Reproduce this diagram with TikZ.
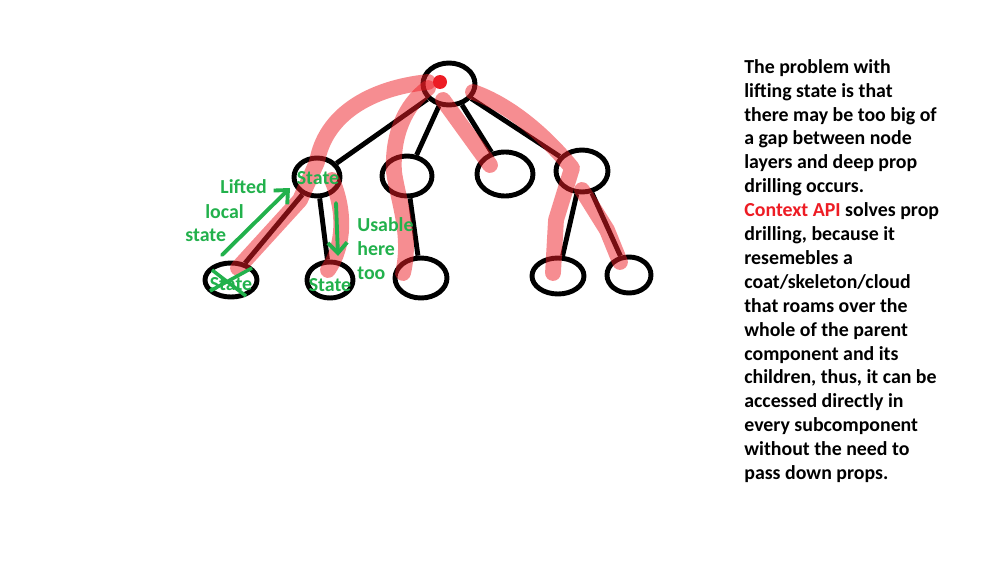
\documentclass[tikz,border=0pt]{standalone}
\usepackage{fontspec}
\setmainfont{Carlito}
\usetikzlibrary{shapes.geometric, arrows.meta}
\definecolor{spray}{HTML}{ED1C24}
\definecolor{paintgreen}{HTML}{22B14C}

\begin{document}
\begin{tikzpicture}[x=0.02cm, y=-0.02cm,
  comp/.style={draw, ellipse, line width=2.8pt, inner sep=0pt},
  dims/.style 2 args={minimum width=#1*0.02cm, minimum height=#2*0.02cm},
  link/.style={line width=2.8pt},
  drill/.style={spray, line width=9pt, opacity=0.5, line cap=round, line join=round},
  note/.style={text=paintgreen, font=\fontsize{11.3}{13.6}\selectfont\bfseries, inner sep=0pt},
  hint/.style={paintgreen, line width=2.2pt, line cap=round, -{Straight Barb[length=6pt, width=11pt, line width=2.2pt]}}]
  \useasboundingbox (0,0) rectangle (1005,568);

  % component tree
  \node[comp, dims={52}{42}] (root) at (449,84) {};
  \node[comp, dims={46}{38}] (kidA) at (317,177) {};
  \node[comp, dims={50}{40}] (kidB) at (407,176) {};
  \node[comp, dims={56}{44}] (kidC) at (505,174) {};
  \node[comp, dims={52}{42}] (kidD) at (582,171) {};
  \node[comp, dims={52}{34}] (leafA) at (231,280) {};
  \node[comp, dims={46}{36}] (leafB) at (330,280) {};
  \node[comp, dims={52}{40}] (leafC) at (421,278) {};
  \node[comp, dims={52}{36}] (leafD) at (558,276) {};
  \node[comp, dims={44}{36}] (leafE) at (629,275) {};
  \foreach \a/\b in {root/kidA, root/kidB, root/kidC, root/kidD, kidA/leafA, kidA/leafB, kidB/leafC, kidD/leafD, kidD/leafE}
    \draw[link] (\a) -- (\b);

  % context spray
  \fill[spray] (440,82) circle (7);
  \draw[drill] (428,82) .. controls (370,88) and (325,115) .. (317,162) -- (300,200) -- (238,268);
  \draw[drill] (332,180) .. controls (345,210) and (345,245) .. (328,270);
  \draw[drill] (428,88) .. controls (405,105) and (392,135) .. (394,172) .. controls (398,200) and (412,235) .. (403,273);
  \draw[drill] (443,100) -- (490,165);
  \draw[drill] (473,92) .. controls (510,105) and (545,135) .. (572,168) -- (556,220) -- (553,273);
  \draw[drill] (582,190) -- (607,230) -- (620,262);

  % lifted state
  \coordinate (liftFrom) at (222,255);
  \coordinate (liftTo) at (290,188);
  \coordinate (useFrom) at (336,203);
  \coordinate (useTo) at (338,256);
  \draw[hint] (liftFrom) -- (liftTo);
  \draw[hint] (useFrom) -- (useTo);
  \draw[paintgreen, line width=2pt] (212,270) -- (246,296) (252,268) -- (210,291);
  \node[note] (stA) at (318,178) {State};
  \node[note] (stB) at (231,284) {State};
  \node[note] (stC) at (330,285) {State};
  \node[note, anchor=west] (lifted) at (220,187) {Lifted};
  \node[note, anchor=west] (local) at (205,212) {local};
  \node[note, anchor=west] (lstate) at (185,235) {state};
  \node[note, anchor=west] (usable) at (357,225) {Usable};
  \node[note, anchor=west] (here) at (357,249) {here};
  \node[note, anchor=west] (too) at (357,273) {too};

  \node[anchor=north west, align=left, inner sep=0pt, font=\fontsize{11.3}{13.6}\selectfont\bfseries] (story) at (744,59)
    {The problem with\\ lifting state is that\\ there may be too big of\\ a gap between node\\ layers and deep prop\\ drilling occurs.\\
     \textcolor{spray}{Context API} solves prop\\ drilling, because it\\ resemebles a\\ coat/skeleton/cloud\\ that roams over the\\ whole of the parent\\
     component and its\\ children, thus, it can be\\ accessed directly in\\ every subcomponent\\ without the need to\\ pass down props.};
\end{tikzpicture}
\end{document}
